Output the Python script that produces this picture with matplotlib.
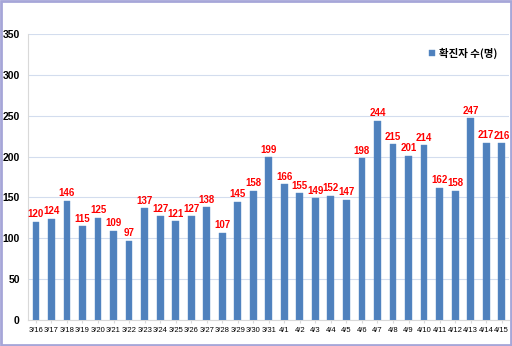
import matplotlib
matplotlib.use("Agg")
import matplotlib.pyplot as plt
from matplotlib.patches import Rectangle
from matplotlib import font_manager

plt.rcParams['font.family'] = ['Noto Sans CJK KR', 'DejaVu Sans']

dates = ["3/16","3/17","3/18","3/19","3/20","3/21","3/22","3/23","3/24","3/25","3/26",
         "3/27","3/28","3/29","3/30","3/31","4/1","4/2","4/3","4/4","4/5","4/6","4/7",
         "4/8","4/9","4/10","4/11","4/12","4/13","4/14","4/15"]
cases = [120,124,146,115,125,109,97,137,127,121,127,138,107,145,158,199,166,155,149,
         152,147,198,244,215,201,214,162,158,247,217,216]
series_name = "확진자 수(명)"
yticks = [0,50,100,150,200,250,300,350]

names = {f.name for f in font_manager.fontManager.ttflist}
narrow = 'Liberation Sans Narrow' if 'Liberation Sans Narrow' in names else 'Liberation Sans'

fig = plt.figure(figsize=(5.12,3.46), dpi=100)
ax = fig.add_axes([0.055, 0.075, 0.94, 0.827])
x = list(range(len(dates)))
ax.bar(x, cases, width=0.44, color='#4F81BD', edgecolor='#5B8CC8', linewidth=0.3,
       label=series_name, zorder=3)
for xi, v in zip(x, cases):
    ax.text(xi, v + 3, str(v), ha='center', va='bottom', color='#FF0000',
            fontsize=7, fontweight='bold', family=narrow if narrow != 'Liberation Sans' else 'Liberation Sans',
            zorder=4)
ax.set_ylim(0, 350)
ax.set_xlim(-0.5, len(dates) - 0.5)
ax.set_yticks(yticks)
ax.set_yticklabels([str(t) for t in yticks], fontsize=7.5, fontweight='bold', family='Liberation Sans')
ax.set_xticks(x)
ax.set_xticklabels(dates, fontsize=5.5, family=narrow)
ax.yaxis.grid(True, color='#D3DDEE', linewidth=0.8, zorder=0)
ax.set_axisbelow(True)
for s in ['top', 'right']:
    ax.spines[s].set_visible(False)
ax.spines['left'].set_color('#D9D9D9')
ax.spines['bottom'].set_color('#D9D9D9')
ax.tick_params(axis='y', length=0, pad=6)
ax.tick_params(axis='x', length=2, color='#D9D9D9', pad=3)
leg = ax.legend(loc='upper right', bbox_to_anchor=(0.995, 0.985), frameon=False,
                fontsize=7.5, handlelength=0.6, handleheight=0.6, handletextpad=0.4)
for t in leg.get_texts():
    t.set_fontweight('bold')
fig.patches.append(Rectangle((0.002, 0.003), 0.996, 0.994, transform=fig.transFigure,
                             fill=False, edgecolor='#A6A6D8', linewidth=2))
fig.savefig('out.png', dpi=100)
